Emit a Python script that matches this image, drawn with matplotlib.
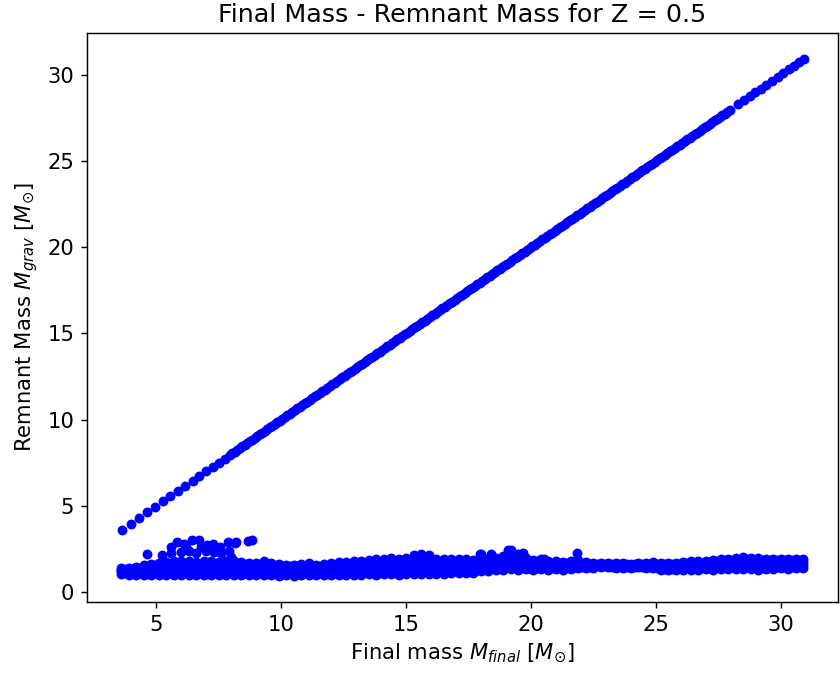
import matplotlib
matplotlib.use("Agg")
import matplotlib.pyplot as plt

plt.rcParams["font.size"] = 11.7

# Diagonal branch (direct collapse): remnant mass equals final mass
diag_final = [3.62, 3.98, 4.31, 4.65, 4.95, 5.26, 5.57, 5.87, 6.16, 6.46, 6.72, 7.0, 7.27, 7.51,
              7.75, 7.95, 8.15, 8.35, 8.55, 8.75, 8.95, 9.15, 9.35, 9.55, 9.75, 9.95, 10.15, 10.35,
              10.55, 10.75, 10.95, 11.15, 11.35, 11.55, 11.75, 11.95, 12.15, 12.35, 12.55, 12.75,
              12.95, 13.15, 13.35, 13.55, 13.75, 13.95, 14.15, 14.35, 14.55, 14.75, 14.95, 15.15,
              15.35, 15.55, 15.75, 15.95, 16.15, 16.35, 16.55, 16.75, 16.95, 17.15, 17.35, 17.55,
              17.75, 17.95, 18.15, 18.35, 18.55, 18.75, 18.95, 19.15, 19.35, 19.55, 19.75, 19.95,
              20.15, 20.35, 20.55, 20.75, 20.95, 21.15, 21.35, 21.55, 21.75, 21.95, 22.15, 22.35,
              22.55, 22.75, 22.95, 23.15, 23.35, 23.55, 23.75, 23.95, 24.15, 24.35, 24.55, 24.75,
              24.95, 25.15, 25.35, 25.55, 25.75, 25.95, 26.15, 26.35, 26.55, 26.75, 26.95, 27.15,
              27.35, 27.55, 27.75, 27.98, 28.3, 28.52, 28.75, 28.98, 29.2, 29.42, 29.65, 29.88,
              30.1, 30.32, 30.52, 30.72, 30.92]
diag_remnant = [3.62, 3.98, 4.31, 4.65, 4.95, 5.26, 5.57, 5.87, 6.16, 6.46, 6.72, 7.0, 7.27, 7.51,
                7.75, 7.95, 8.15, 8.35, 8.55, 8.75, 8.95, 9.15, 9.35, 9.55, 9.75, 9.95, 10.15, 10.35,
                10.55, 10.75, 10.95, 11.15, 11.35, 11.55, 11.75, 11.95, 12.15, 12.35, 12.55, 12.75,
                12.95, 13.15, 13.35, 13.55, 13.75, 13.95, 14.15, 14.35, 14.55, 14.75, 14.95, 15.15,
                15.35, 15.55, 15.75, 15.95, 16.15, 16.35, 16.55, 16.75, 16.95, 17.15, 17.35, 17.55,
                17.75, 17.95, 18.15, 18.35, 18.55, 18.75, 18.95, 19.15, 19.35, 19.55, 19.75, 19.95,
                20.15, 20.35, 20.55, 20.75, 20.95, 21.15, 21.35, 21.55, 21.75, 21.95, 22.15, 22.35,
                22.55, 22.75, 22.95, 23.15, 23.35, 23.55, 23.75, 23.95, 24.15, 24.35, 24.55, 24.75,
                24.95, 25.15, 25.35, 25.55, 25.75, 25.95, 26.15, 26.35, 26.55, 26.75, 26.95, 27.15,
                27.35, 27.55, 27.75, 27.98, 28.3, 28.52, 28.75, 28.98, 29.2, 29.42, 29.65, 29.88,
                30.1, 30.32, 30.52, 30.72, 30.92]
# Additional, denser direct-collapse models in the middle of the range
diag_final_b = [8.05, 8.25, 8.45, 8.65, 8.85, 9.05, 9.25, 9.45, 9.65, 9.85,
                10.05, 10.25, 10.45, 10.65, 10.85, 11.05, 11.25, 11.45, 11.65, 11.85,
                12.05, 12.25, 12.45, 12.65, 12.85, 13.05, 13.25, 13.45, 13.65, 13.85,
                14.05, 14.25, 14.45, 14.65, 14.85, 15.05, 15.25, 15.45, 15.65, 15.85,
                16.05, 16.25, 16.45, 16.65, 16.85, 17.05, 17.25, 17.45, 17.65, 17.85,
                18.05, 18.25, 18.45, 18.65, 18.85, 19.05, 19.25, 19.45, 19.65, 19.85,
                20.05, 20.25, 20.45, 20.65, 20.85, 21.05, 21.25, 21.45, 21.65, 21.85,
                22.05, 22.25, 22.45, 22.65, 22.85, 23.05, 23.25, 23.45, 23.65, 23.85,
                24.05, 24.25, 24.45, 24.65, 24.85, 25.05, 25.25, 25.45, 25.65, 25.85,
                26.05, 26.25, 26.45, 26.65, 26.85, 27.05, 27.25, 27.45, 27.65, 27.85]
diag_remnant_b = [8.05, 8.25, 8.45, 8.65, 8.85, 9.05, 9.25, 9.45, 9.65, 9.85,
                  10.05, 10.25, 10.45, 10.65, 10.85, 11.05, 11.25, 11.45, 11.65, 11.85,
                  12.05, 12.25, 12.45, 12.65, 12.85, 13.05, 13.25, 13.45, 13.65, 13.85,
                  14.05, 14.25, 14.45, 14.65, 14.85, 15.05, 15.25, 15.45, 15.65, 15.85,
                  16.05, 16.25, 16.45, 16.65, 16.85, 17.05, 17.25, 17.45, 17.65, 17.85,
                  18.05, 18.25, 18.45, 18.65, 18.85, 19.05, 19.25, 19.45, 19.65, 19.85,
                  20.05, 20.25, 20.45, 20.65, 20.85, 21.05, 21.25, 21.45, 21.65, 21.85,
                  22.05, 22.25, 22.45, 22.65, 22.85, 23.05, 23.25, 23.45, 23.65, 23.85,
                  24.05, 24.25, 24.45, 24.65, 24.85, 25.05, 25.25, 25.45, 25.65, 25.85,
                  26.05, 26.25, 26.45, 26.65, 26.85, 27.05, 27.25, 27.45, 27.65, 27.85]

# Compact-object band: final masses and four remnant-mass layers
band_final = [3.6, 3.9, 4.2, 4.5, 4.8, 5.1, 5.4, 5.7, 6.0, 6.3, 6.6, 6.9, 7.2, 7.5, 7.8, 8.1,
              8.4, 8.7, 9.0, 9.3, 9.6, 9.9, 10.2, 10.5, 10.8, 11.1, 11.4, 11.7, 12.0, 12.3, 12.6,
              12.9, 13.2, 13.5, 13.8, 14.1, 14.4, 14.7, 15.0, 15.3, 15.6, 15.9, 16.2, 16.5, 16.8,
              17.1, 17.4, 17.7, 18.0, 18.3, 18.6, 18.9, 19.2, 19.5, 19.8, 20.1, 20.4, 20.7, 21.0,
              21.3, 21.6, 21.9, 22.2, 22.5, 22.8, 23.1, 23.4, 23.7, 24.0, 24.3, 24.6, 24.9, 25.2,
              25.5, 25.8, 26.1, 26.4, 26.7, 27.0, 27.3, 27.6, 27.9, 28.2, 28.5, 28.8, 29.1, 29.4,
              29.7, 30.0, 30.3, 30.6, 30.9]
band_low = [1.05, 1.02, 1.0, 1.02, 1.0, 1.02, 1.0, 1.0, 0.98, 1.0, 1.02, 1.0, 0.98, 1.0, 1.02, 1.0,
            1.0, 1.0, 0.98, 1.0, 1.0, 0.95, 0.98, 0.93, 1.0, 0.98, 1.0, 1.0, 1.0, 1.0, 1.0,
            1.02, 1.02, 1.05, 1.02, 1.05, 1.05, 1.02, 1.05, 1.05, 1.05, 1.08, 1.05, 1.08, 1.1,
            1.1, 1.12, 1.1, 1.2, 1.25, 1.3, 1.3, 1.35, 1.3, 1.35, 1.3, 1.35, 1.3, 1.35,
            1.3, 1.35, 1.4, 1.42, 1.4, 1.45, 1.45, 1.4, 1.42, 1.4, 1.45, 1.42, 1.4, 1.3,
            1.3, 1.28, 1.3, 1.3, 1.3, 1.32, 1.3, 1.35, 1.35, 1.32, 1.35, 1.35, 1.3, 1.35,
            1.35, 1.4, 1.35, 1.38, 1.38]
band_mid1 = [1.2, 1.15, 1.2, 1.25, 1.2, 1.25, 1.25, 1.3, 1.25, 1.3, 1.3, 1.25, 1.3, 1.25, 1.3, 1.3,
             1.25, 1.25, 1.2, 1.25, 1.2, 1.2, 1.2, 1.15, 1.2, 1.2, 1.2, 1.2, 1.2, 1.25, 1.25,
             1.25, 1.3, 1.3, 1.3, 1.3, 1.35, 1.3, 1.35, 1.35, 1.35, 1.4, 1.35, 1.35, 1.4,
             1.4, 1.4, 1.35, 1.45, 1.45, 1.5, 1.55, 1.6, 1.55, 1.55, 1.5, 1.5, 1.45, 1.5,
             1.45, 1.5, 1.55, 1.55, 1.5, 1.55, 1.55, 1.5, 1.52, 1.5, 1.52, 1.5, 1.5, 1.45,
             1.45, 1.45, 1.45, 1.45, 1.48, 1.5, 1.5, 1.55, 1.55, 1.55, 1.55, 1.55, 1.55, 1.55,
             1.55, 1.55, 1.55, 1.55, 1.55]
band_mid2 = [1.3, 1.3, 1.35, 1.4, 1.45, 1.45, 1.5, 1.5, 1.5, 1.55, 1.5, 1.5, 1.55, 1.5, 1.55, 1.55,
             1.5, 1.5, 1.45, 1.5, 1.45, 1.4, 1.4, 1.4, 1.4, 1.45, 1.4, 1.42, 1.45, 1.5, 1.5,
             1.5, 1.55, 1.55, 1.6, 1.6, 1.65, 1.6, 1.65, 1.7, 1.7, 1.7, 1.65, 1.65, 1.65,
             1.7, 1.65, 1.6, 1.7, 1.7, 1.75, 1.8, 1.9, 1.85, 1.8, 1.7, 1.7, 1.6, 1.65,
             1.6, 1.65, 1.7, 1.65, 1.6, 1.65, 1.62, 1.6, 1.6, 1.6, 1.6, 1.6, 1.6, 1.6,
             1.6, 1.6, 1.6, 1.62, 1.65, 1.65, 1.68, 1.75, 1.75, 1.78, 1.8, 1.75, 1.75, 1.75,
             1.75, 1.75, 1.75, 1.75, 1.75]
band_high = [1.4, 1.42, 1.45, 1.55, 1.65, 1.7, 1.75, 1.78, 1.8, 1.8, 1.75, 1.8, 1.78, 1.75, 1.8, 1.8,
             1.75, 1.72, 1.7, 1.78, 1.7, 1.65, 1.6, 1.6, 1.62, 1.68, 1.6, 1.62, 1.7, 1.75, 1.75,
             1.8, 1.8, 1.85, 1.9, 1.95, 2.0, 1.9, 2.0, 2.15, 2.2, 2.15, 1.95, 1.9, 1.92,
             1.95, 1.9, 1.85, 2.2, 1.95, 2.0, 2.1, 2.4, 2.2, 2.0, 1.85, 1.95, 1.8, 1.82,
             1.75, 1.8, 1.85, 1.75, 1.7, 1.72, 1.7, 1.68, 1.7, 1.65, 1.7, 1.72, 1.75, 1.72,
             1.7, 1.72, 1.75, 1.78, 1.8, 1.82, 1.85, 1.95, 1.95, 2.0, 2.02, 2.0, 1.98, 1.95,
             1.95, 1.95, 1.92, 1.95, 1.95]

# Interleaved band models (between the grid above) with two remnant-mass layers
band_final_b = [3.75, 4.05, 4.35, 4.65, 4.95, 5.25, 5.55, 5.85, 6.15, 6.45, 6.75, 7.05, 7.35,
                7.65, 7.95, 8.25, 8.55, 8.85, 9.15, 9.45, 9.75, 10.05, 10.35, 10.65, 10.95,
                11.25, 11.55, 11.85, 12.15, 12.45, 12.75, 13.05, 13.35, 13.65, 13.95, 14.25,
                14.55, 14.85, 15.15, 15.45, 15.75, 16.05, 16.35, 16.65, 16.95, 17.25, 17.55,
                17.85, 18.15, 18.45, 18.75, 19.05, 19.35, 19.65, 19.95, 20.25, 20.55, 20.85,
                21.15, 21.45, 21.75, 22.05, 22.35, 22.65, 22.95, 23.25, 23.55, 23.85, 24.15,
                24.45, 24.75, 25.05, 25.35, 25.65, 25.95, 26.25, 26.55, 26.85, 27.15, 27.45,
                27.75, 28.05, 28.35, 28.65, 28.95, 29.25, 29.55, 29.85, 30.15, 30.45, 30.75]
band_low_b = [1.12, 1.1, 1.12, 1.1, 1.12, 1.1, 1.13, 1.12, 1.1, 1.12, 1.14, 1.12, 1.1,
              1.12, 1.14, 1.12, 1.1, 1.12, 1.1, 1.12, 1.1, 1.08, 1.1, 1.06, 1.1,
              1.1, 1.1, 1.12, 1.1, 1.12, 1.12, 1.15, 1.17, 1.18, 1.16, 1.2,
              1.18, 1.2, 1.2, 1.2, 1.22, 1.2, 1.2, 1.25, 1.25, 1.27, 1.24,
              1.3, 1.35, 1.4, 1.42, 1.45, 1.45, 1.42, 1.42, 1.4, 1.4, 1.42,
              1.4, 1.42, 1.45, 1.48, 1.47, 1.5, 1.5, 1.48, 1.46, 1.47, 1.48,
              1.47, 1.45, 1.38, 1.37, 1.36, 1.38, 1.38, 1.38, 1.4, 1.4, 1.42,
              1.45, 1.44, 1.45, 1.45, 1.44, 1.43, 1.45, 1.45, 1.46, 1.45, 1.46]
band_high_b = [1.35, 1.36, 1.4, 1.5, 1.55, 1.6, 1.62, 1.65, 1.66, 1.65, 1.64, 1.65, 1.66,
               1.63, 1.67, 1.65, 1.62, 1.6, 1.62, 1.62, 1.58, 1.52, 1.5, 1.5, 1.52,
               1.52, 1.5, 1.54, 1.58, 1.62, 1.64, 1.67, 1.7, 1.72, 1.76, 1.8,
               1.8, 1.82, 1.88, 1.92, 1.92, 1.85, 1.8, 1.78, 1.8, 1.8, 1.75,
               1.8, 1.82, 1.85, 1.92, 2.05, 2.0, 1.92, 1.8, 1.8, 1.75, 1.72,
               1.7, 1.72, 1.78, 1.7, 1.65, 1.66, 1.65, 1.62, 1.64, 1.62, 1.64,
               1.65, 1.66, 1.64, 1.62, 1.64, 1.66, 1.68, 1.7, 1.72, 1.74, 1.78,
               1.85, 1.85, 1.88, 1.9, 1.88, 1.86, 1.85, 1.86, 1.85, 1.84, 1.85]

# Scattered higher-mass remnants
extra_final = [4.64, 5.25, 5.58, 5.84, 6.1, 6.43, 6.73, 7.02, 7.28, 7.55, 7.87, 8.14, 8.2, 8.66,
               8.83, 5.6, 6.0, 6.3, 6.6, 7.0, 7.3, 7.6, 7.9, 8.0, 6.8, 6.2, 7.2,
               17.98, 18.4, 19.07, 19.2, 19.68, 21.85, 20.54]
extra_remnant = [2.2, 2.17, 2.63, 2.92, 2.8, 3.02, 3.02, 2.73, 2.77, 2.63, 2.92, 2.83, 2.92, 2.98,
                 3.02, 2.3, 2.35, 2.4, 2.3, 2.4, 2.35, 2.3, 2.4, 2.05, 2.6, 2.6, 2.55,
                 2.19, 2.19, 2.44, 2.44, 2.25, 2.25, 1.95]

fig = plt.figure(figsize=(840 / 130, 675 / 130), dpi=130)
ax = fig.add_axes([87 / 840, 73 / 675, 751 / 840, 569 / 675])

for ys in (band_low, band_mid1, band_mid2, band_high):
    ax.scatter(band_final, ys, color="blue", s=20)
for ys in (band_low_b, band_high_b):
    ax.scatter(band_final_b, ys, color="blue", s=20)
ax.scatter(extra_final, extra_remnant, color="blue", s=20)
ax.scatter(diag_final, diag_remnant, color="blue", s=20)
ax.scatter(diag_final_b, diag_remnant_b, color="blue", s=20)

ax.set_title("Final Mass - Remnant Mass for Z = 0.5")
ax.set_xlabel(r"Final mass $M_{final}$ [$M_{\odot}$]")
ax.set_ylabel(r"Remnant Mass $M_{grav}$ [$M_{\odot}$]")

fig.savefig("out.png", dpi=130)
